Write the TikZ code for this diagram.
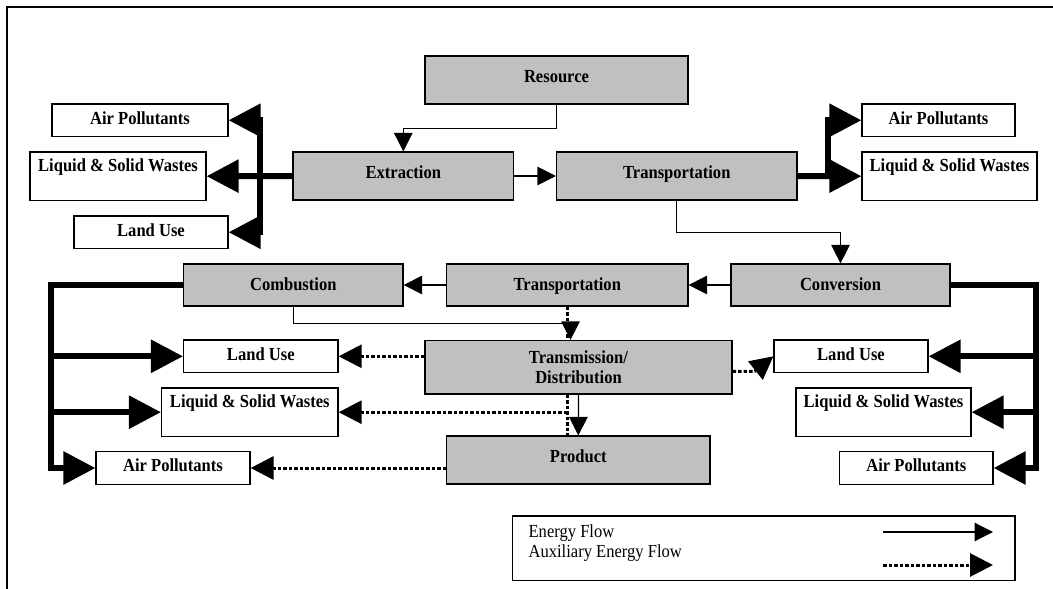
\documentclass[tikz,border=0pt]{standalone}
\usepackage{fontspec}
\setmainfont{Liberation Serif}[FakeStretch=0.9]
\usetikzlibrary{arrows.meta}
\definecolor{boxgray}{RGB}{192,192,192}

\begin{document}
\begin{tikzpicture}[x=1pt, y=-1pt,
  every node/.style={inner sep=0pt, font=\fontsize{18.4}{20.4}\selectfont\bfseries},
  gbox/.style={draw, line width=1.2pt, fill=boxgray, text height=26pt, text depth=22pt},
  gboxs/.style={gbox, text height=26.5pt, text depth=15.5pt},
  wbox/.style={draw, line width=1.2pt, fill=white, text height=20pt, text depth=12.5pt},
  tbox/.style={wbox, text height=19pt, text depth=29.4pt},
  flow/.style={line width=1.2pt, -{Triangle[length=18.5pt, width=18.5pt]}},
  aux/.style={line width=3pt, dash pattern=on 3.5pt off 2pt},
  auxarr/.style={aux, -{Triangle[length=23pt, width=23pt]}},
  heavy/.style={line width=6pt},
  bigarr/.style={heavy, -{Triangle[length=32pt, width=32pt]}}]
	\useasboundingbox (0,0) rectangle (1053,589);
	\draw[line width=1.7pt] (7.3,589) -- (7.3,6.7) -- (1053,6.7);
	
	% chain
	\node[gbox, minimum width=263pt] (res) at (556.5,80) {Resource};
	\node[gbox, minimum width=220.5pt] (ext) at (403.3,176) {Extraction};
	\node[gbox, minimum width=240.5pt] (tra) at (676.8,176) {Transportation};
	\node[gboxs, minimum width=219.5pt] (com) at (293.3,285) {Combustion};
	\node[gboxs, minimum width=241.4pt] (trb) at (567.3,285) {Transportation};
	\node[gboxs, minimum width=219pt] (con) at (840.5,285) {Conversion};
	\node[gbox, text height=, text depth=, minimum width=307pt, minimum height=53.5pt, align=center] (tnd) at (578.5,367.25) {Transmission/\\Distribution};
	\node[gbox, minimum width=263.4pt] (prd) at (578.3,460) {Product};
	
	% emissions
	\node[wbox, minimum width=176pt] (apTL) at (140,120.25) {Air Pollutants};
	\node[tbox, minimum width=176pt] (lwTL) at (118,176.2) {Liquid \& Solid Wastes};
	\node[wbox, minimum width=154pt] (luTL) at (151,232.25) {Land Use};
	\node[wbox, minimum width=153pt] (apTR) at (938.5,120.25) {Air Pollutants};
	\node[tbox, minimum width=175pt] (lwTR) at (949.5,176.2) {Liquid \& Solid Wastes};
	\node[wbox, minimum width=154.5pt] (luL) at (260.8,356.3) {Land Use};
	\node[tbox, minimum width=176.5pt] (lwL) at (249.8,412.2) {Liquid \& Solid Wastes};
	\node[wbox, minimum width=154pt] (apL) at (173,468) {Air Pollutants};
	\node[wbox, minimum width=154pt] (luR) at (851,356.3) {Land Use};
	\node[tbox, minimum width=175pt] (lwR) at (883.5,412.2) {Liquid \& Solid Wastes};
	\node[wbox, minimum width=153.4pt] (apR) at (916.3,468) {Air Pollutants};
	
	% legend
	\node[draw, line width=1.2pt, minimum width=502.5pt, minimum height=64.7pt] (leg) at (763.75,548.35) {};
	\node[anchor=base west, font=\fontsize{18.4}{20.4}\selectfont] (lgef) at (528.4,537) {Energy Flow};
	\node[anchor=base west, font=\fontsize{18.4}{20.4}\selectfont] (lgaf) at (528.4,557.7) {Auxiliary Energy Flow};
	\coordinate (ef1) at (883,532);
	\coordinate (ef2) at (993,532);
	\coordinate (af1) at (883,565);
	\coordinate (af2) at (993,565);
	\draw[flow] (ef1) -- (ef2);
	\draw[auxarr] (af1) -- (af2);
	
	% energy flow
	\draw[flow] (res.south) -- ++(0,24) -| (ext.north);
	\draw[flow] (ext.east) -- (tra.west);
	\draw[flow] (tra.south) -- ++(0,32) -| (con.north);
	\draw[flow] (con.west) -- (trb.east);
	\draw[flow] (trb.west) -- (com.east);
	\draw[flow] (com.south) -- ++(0,17) -| ([xshift=-8pt]tnd.north);
	\draw[flow] (tnd.south) -- (prd.north);
	
	% auxiliary flow
	\draw[aux] (trb.south) -- (trb.south |- tnd.north);
	\draw[aux] (trb.south |- tnd.south) -- (trb.south |- prd.north);
	\draw[auxarr] (trb.south |- lwL.east) -- (lwL.east);
	\draw[auxarr] (tnd.west |- luL.east) -- (luL.east);
	\draw[auxarr] (prd.west |- apL.east) -- (apL.east);
	\draw[auxarr] ([yshift=-4pt]tnd.east) -- ++(22,0) -- (luR.west);
	
	% emission bars
	\coordinate (tlbar) at (260,176);
	\coordinate (trbar) at (828,176);
	\coordinate (blbar) at (51,468);
	\coordinate (brbar) at (1036,468);
	\draw[bigarr] (ext.west) -- (lwTL.east);
	\draw[heavy, line cap=rect] (tlbar |- apTL.east) -- (tlbar |- luTL.east);
	\draw[bigarr] (tlbar |- apTL.east) -- (apTL.east);
	\draw[bigarr] (tlbar |- luTL.east) -- (luTL.east);
	\draw[bigarr] (tra.east) -- (lwTR.west);
	\draw[heavy, line cap=rect] (trbar |- apTR.west) -- (trbar);
	\draw[bigarr] (trbar |- apTR.west) -- (apTR.west);
	\draw[heavy] (con.east) -| ([yshift=-3pt]brbar);
	\draw[bigarr] (brbar |- luR.east) -- (luR.east);
	\draw[bigarr] (brbar |- lwR.east) -- (lwR.east);
	\draw[bigarr] (brbar) -- (apR.east);
	\draw[heavy] (com.west) -| ([yshift=-3pt]blbar);
	\draw[bigarr] (blbar |- luL.west) -- (luL.west);
	\draw[bigarr] (blbar |- lwL.west) -- (lwL.west);
	\draw[bigarr] (blbar) -- (apL.west);
\end{tikzpicture}
\end{document}
